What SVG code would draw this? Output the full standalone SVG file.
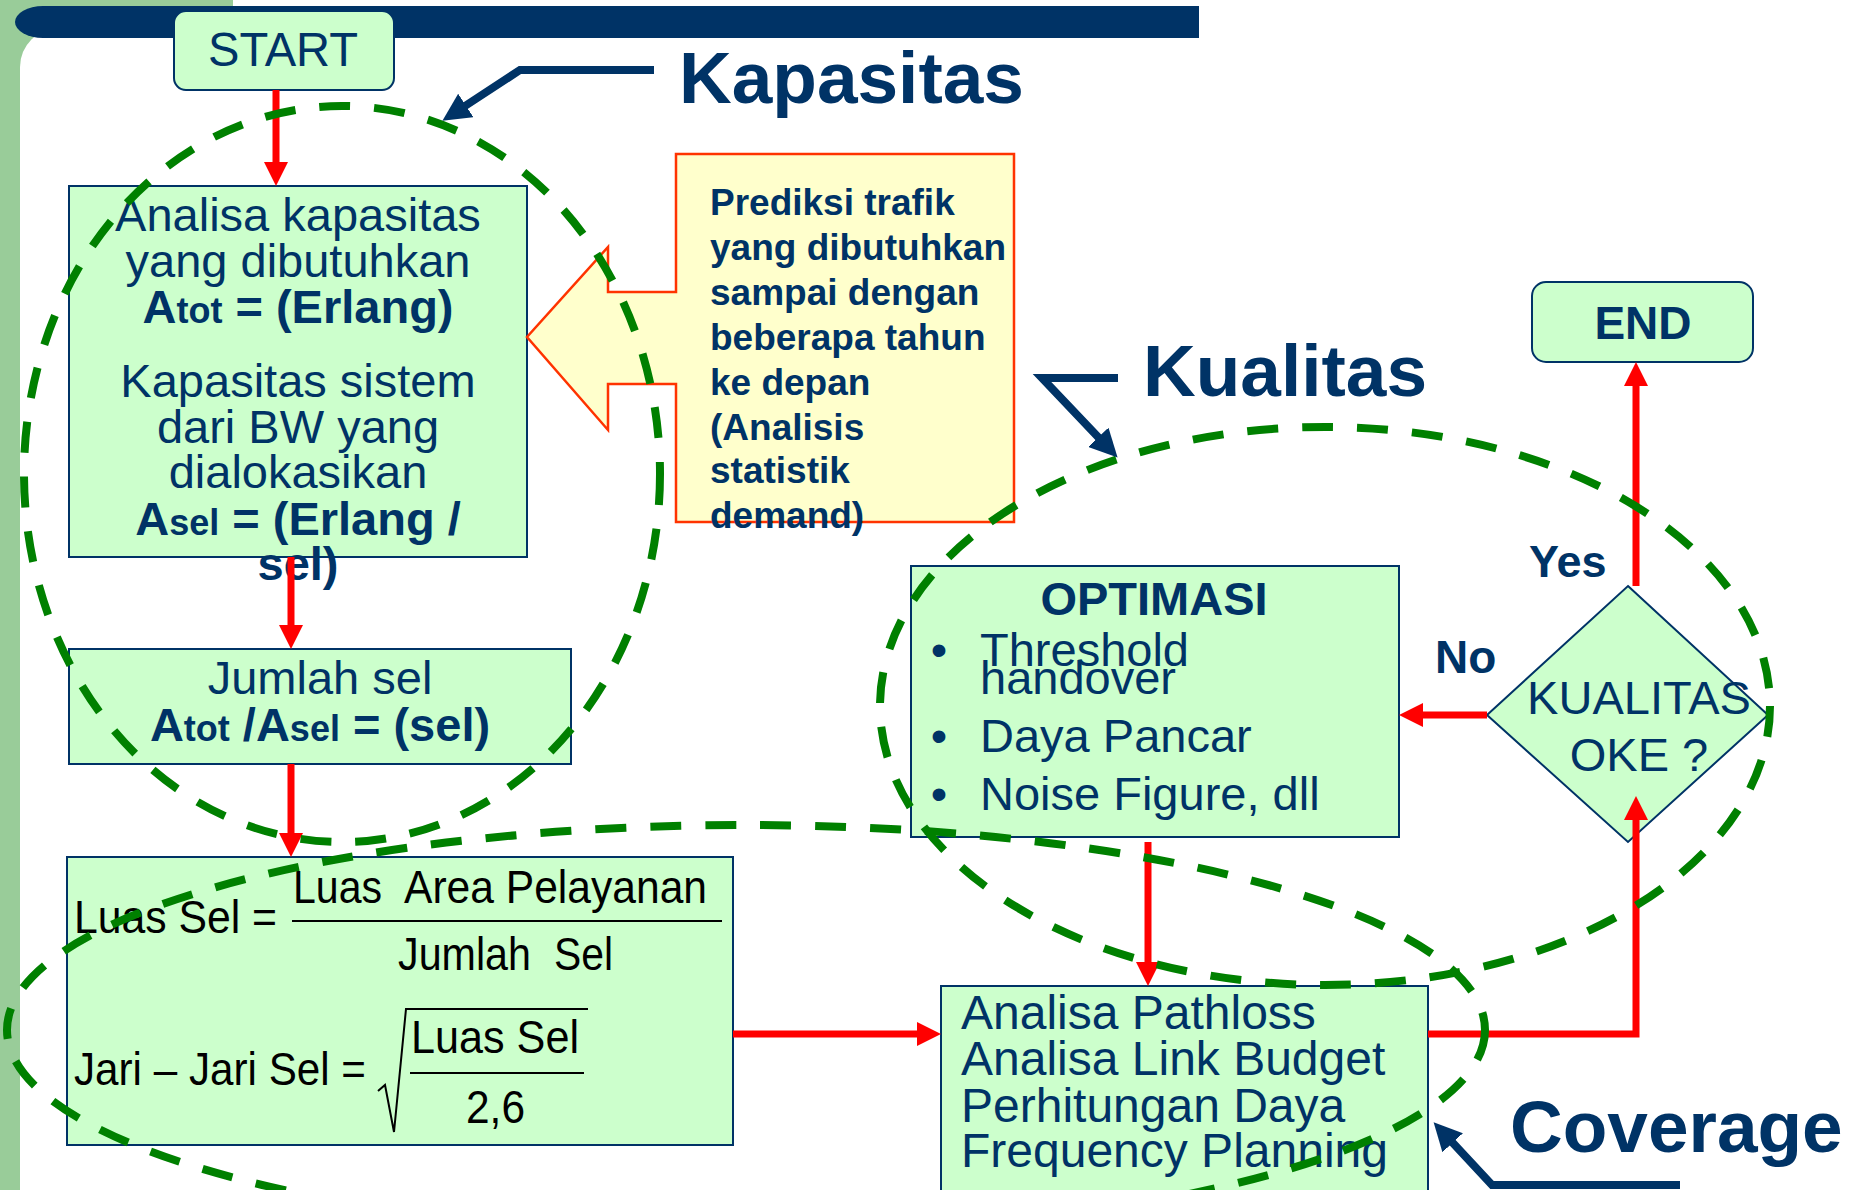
<svg xmlns="http://www.w3.org/2000/svg" width="1852" height="1190" viewBox="0 0 1852 1190">
<defs>
<marker id="ar" markerUnits="userSpaceOnUse" markerWidth="24" markerHeight="24" refX="1" refY="12" orient="auto"><path d="M0,0 L24,12 L0,24 Z" fill="#FF0000"/></marker>
<marker id="an" markerUnits="userSpaceOnUse" markerWidth="28" markerHeight="28" refX="1" refY="14" orient="auto"><path d="M0,0 L28,14 L0,28 Z" fill="#003366"/></marker>
</defs>
<style>
.box{fill:#CCFFCC;stroke:#003366;stroke-width:2}
.t{font-family:"Liberation Sans",Arial,sans-serif;fill:#003366}
.b{font-weight:bold}
.m{text-anchor:middle}
.f{font-family:"Liberation Sans",Arial,sans-serif;fill:#000;font-size:46px}
.fl{stroke:#000;stroke-width:2;fill:none}
.red{fill:none;stroke:#FF0000;stroke-width:7;marker-end:url(#ar)}
.ell{fill:none;stroke:#008000;stroke-width:8;stroke-dasharray:31 24}
.ptr{fill:none;stroke:#003366;stroke-width:8;marker-end:url(#an)}
.lbl{font-family:"Liberation Sans",Arial,sans-serif;fill:#003366;font-size:73px;font-weight:bold}
</style>
<g id="background">
<rect x="0" y="0" width="1852" height="1190" fill="#FFFFFF"/>
<rect x="0" y="0" width="233" height="70" fill="#99CC99"/>
<rect x="0" y="0" width="20" height="1190" fill="#99CC99"/>
<rect x="20" y="28" width="400" height="300" rx="39" fill="#FFFFFF"/>
<path d="M43,6 H1199 V38 H43 A28,16 0 0 1 43,6 Z" fill="#003366"/>
</g>
<g id="start">
<rect class="box" x="174" y="11" width="220" height="79" rx="12"/>
<text class="t m" x="283" y="66" font-size="48" textLength="150" lengthAdjust="spacingAndGlyphs">START</text>
</g>
<g id="analisa-kapasitas" font-size="47">
<rect class="box" x="69" y="186" width="458" height="371"/>
<text class="t m" x="298" y="231">Analisa kapasitas</text>
<text class="t m" x="298" y="277">yang dibutuhkan</text>
<text class="t b m" x="298" y="323">A<tspan font-size="36">tot</tspan> = (Erlang)</text>
<text class="t m" x="298" y="397">Kapasitas sistem</text>
<text class="t m" x="298" y="443">dari BW yang</text>
<text class="t m" x="298" y="488">dialokasikan</text>
<text class="t b m" x="298" y="535">A<tspan font-size="36">sel</tspan> = (Erlang /</text>
<text class="t b m" x="298" y="580">sel)</text>
</g>
<g id="jumlah-sel" font-size="47">
<rect class="box" x="69" y="649" width="502" height="115"/>
<text class="t m" x="320" y="694">Jumlah sel</text>
<text class="t b m" x="320" y="741">A<tspan font-size="36">tot</tspan> /A<tspan font-size="36">sel</tspan> = (sel)</text>
</g>
<g id="luas-sel">
<rect class="box" x="67" y="857" width="666" height="288"/>
<text class="f" x="74" y="933" textLength="203" lengthAdjust="spacingAndGlyphs">Luas Sel =</text>
<text class="f" x="293" y="903" textLength="89" lengthAdjust="spacingAndGlyphs">Luas</text>
<text class="f" x="404" y="903" textLength="303" lengthAdjust="spacingAndGlyphs">Area Pelayanan</text>
<line class="fl" x1="292" y1="921" x2="722" y2="921"/>
<text class="f" x="398" y="970" textLength="133" lengthAdjust="spacingAndGlyphs">Jumlah</text>
<text class="f" x="554" y="970" textLength="59" lengthAdjust="spacingAndGlyphs">Sel</text>
<text class="f" x="74" y="1085" textLength="292" lengthAdjust="spacingAndGlyphs">Jari – Jari Sel =</text>
<path class="fl" d="M378,1091 L385,1085 L394,1132 L406,1009 L588,1009"/>
<text class="f" x="411" y="1053" textLength="168" lengthAdjust="spacingAndGlyphs">Luas Sel</text>
<line class="fl" x1="410" y1="1073" x2="584" y2="1073"/>
<text class="f" x="466" y="1123" textLength="59" lengthAdjust="spacingAndGlyphs">2,6</text>
</g>
<g id="prediksi" font-size="37">
<path d="M676,154 H1014 V522 H676 V384 H608 V430 L527,337 L608,247 V292 H676 Z" fill="#FFFFCC" stroke="#FF3300" stroke-width="2.5"/>
<text class="t b" x="710" y="215">Prediksi trafik</text>
<text class="t b" x="710" y="260">yang dibutuhkan</text>
<text class="t b" x="710" y="305">sampai dengan</text>
<text class="t b" x="710" y="350">beberapa tahun</text>
<text class="t b" x="710" y="395">ke depan</text>
<text class="t b" x="710" y="440">(Analisis</text>
<text class="t b" x="710" y="483">statistik</text>
<text class="t b" x="710" y="528">demand)</text>
</g>
<g id="optimasi" font-size="47">
<rect class="box" x="911" y="566" width="488" height="271"/>
<text class="t b m" x="1154" y="615">OPTIMASI</text>
<text class="t m" x="939" y="666">•</text>
<text class="t" x="980" y="666">Threshold</text>
<text class="t" x="980" y="694">handover</text>
<text class="t m" x="939" y="752">•</text>
<text class="t" x="980" y="752">Daya Pancar</text>
<text class="t m" x="939" y="810">•</text>
<text class="t" x="980" y="810">Noise Figure, dll</text>
</g>
<g id="pathloss" font-size="48">
<rect class="box" x="941" y="986" width="487" height="230"/>
<text class="t" x="961" y="1029">Analisa Pathloss</text>
<text class="t" x="961" y="1075">Analisa Link Budget</text>
<text class="t" x="961" y="1122">Perhitungan Daya</text>
<text class="t" x="961" y="1167">Frequency Planning</text>
</g>
<g id="kualitas-oke" font-size="47">
<polygon class="box" points="1628,586 1768,715 1628,842 1487,715"/>
<text class="t m" x="1639" y="714">KUALITAS</text>
<text class="t m" x="1639" y="771">OKE ?</text>
</g>
<g id="end">
<rect class="box" x="1532" y="282" width="221" height="80" rx="14"/>
<text class="t b m" font-size="46" x="1643" y="339">END</text>
</g>
<g id="connectors">
<path class="red" d="M276,90 V163"/>
<path class="red" d="M291,557 V626"/>
<path class="red" d="M291,764 V834"/>
<path class="red" d="M733,1034 H918"/>
<path class="red" d="M1148,842 V963"/>
<path class="red" d="M1428,1034 H1636 V819"/>
<path class="red" d="M1636,586 V385"/>
<path class="red" d="M1487,715 H1422"/>
<text class="t b" font-size="45" x="1529" y="577">Yes</text>
<text class="t b" font-size="46" x="1435" y="673">No</text>
</g>
<g id="groups">
<ellipse class="ell" cx="342" cy="474" rx="318" ry="368"/>
<ellipse class="ell" cx="1325" cy="706" rx="445" ry="279"/>
<ellipse class="ell" cx="746" cy="1030" rx="739" ry="205"/>
</g>
<g id="labels">
<path class="ptr" d="M654,70 H520 L465,106"/>
<text class="lbl" x="679" y="103">Kapasitas</text>
<path class="ptr" d="M1118,378 H1042 L1099,438"/>
<text class="lbl" x="1143" y="396">Kualitas</text>
<path class="ptr" d="M1680,1185 H1492 L1452,1142"/>
<text class="lbl" x="1510" y="1152">Coverage</text>
</g>
</svg>
